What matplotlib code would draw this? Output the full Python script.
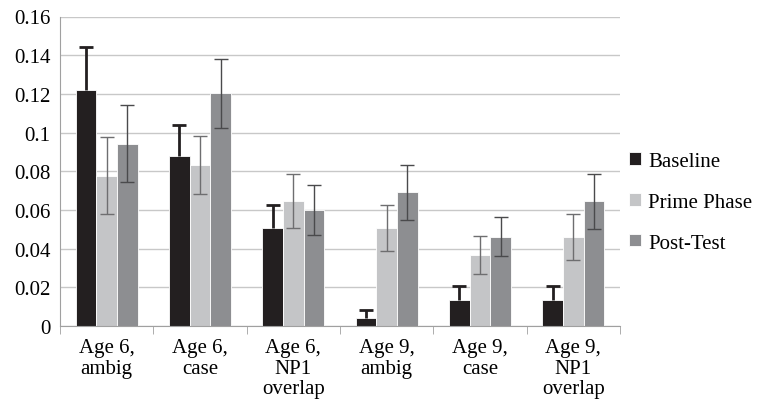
import matplotlib.pyplot as plt
import numpy as np

categories = ['Age 6,\nambig', 'Age 6,\ncase', 'Age 6,\nNP1\noverlap',
              'Age 9,\nambig', 'Age 9,\ncase', 'Age 9,\nNP1\noverlap']
series = ['Baseline', 'Prime Phase', 'Post-Test']
baseline = [0.122, 0.0878, 0.0505, 0.0043, 0.0136, 0.0136]
baseline_err = [0.022, 0.016, 0.0123, 0.0042, 0.0071, 0.0071]
prime = [0.0777, 0.0832, 0.0646, 0.0507, 0.0367, 0.0460]
prime_err = [0.020, 0.015, 0.014, 0.012, 0.010, 0.012]
post = [0.0943, 0.1202, 0.0600, 0.0692, 0.0462, 0.0646]
post_err = [0.020, 0.018, 0.013, 0.0142, 0.010, 0.0142]

colors = ['#231f20', '#c4c5c7', '#8d8e91']
err_colors = ['#231f20', '#6e6e70', '#4a4a4c']

plt.rcParams['font.family'] = ['Liberation Serif', 'DejaVu Serif']
fig = plt.figure(figsize=(7.63, 4.10), dpi=100)
ax = fig.add_axes([60 / 763, 1 - 327 / 410, 560 / 763, 309.5 / 410])

x = np.arange(len(categories))
width = 1 / 4.5
values = [baseline, prime, post]
errs = [baseline_err, prime_err, post_err]
for i in range(3):
    pos = x + (i - 1) * width
    ax.bar(pos, values[i], width, color=colors[i], edgecolor='white',
           linewidth=0.6, label=series[i], zorder=2)
    if i == 0:
        eb = ax.errorbar(pos, values[i], yerr=[np.zeros(len(x)), errs[i]], fmt='none',
                         ecolor=err_colors[i], elinewidth=2, capsize=5, capthick=2, zorder=3)
        eb[1][0].set_visible(False)  # no cap at the bar top
    else:
        ax.errorbar(pos, values[i], yerr=errs[i], fmt='none',
                    ecolor=err_colors[i], elinewidth=1, capsize=5, capthick=1, zorder=3)

ax.set_xlim(-0.5, len(categories) - 0.5)
ax.set_ylim(0, 0.16)
ax.set_yticks(np.arange(0, 0.161, 0.02))
ax.set_yticklabels(['0', '0.02', '0.04', '0.06', '0.08', '0.1', '0.12', '0.14', '0.16'])
ax.yaxis.grid(True, color='#c8c8c8', linewidth=1, zorder=0)
ax.set_axisbelow(True)

ax.set_xticks(x)
ax.set_xticklabels(categories, fontsize=15, linespacing=1.1)
ax.set_xticks(np.arange(-0.5, len(categories)), minor=True)
ax.tick_params(axis='x', which='major', length=0, pad=9)
ax.tick_params(axis='x', which='minor', length=6, color='#a0a0a0')
ax.tick_params(axis='y', length=0, labelsize=15, pad=7)

for side in ['top', 'right']:
    ax.spines[side].set_visible(False)
for side in ['left', 'bottom']:
    ax.spines[side].set_color('#a0a0a0')

leg = ax.legend(loc='center left', bbox_to_anchor=(1.0, 0.40), frameon=False,
                fontsize=15, handlelength=0.55, handleheight=0.55,
                labelspacing=1.05, handletextpad=0.35, borderaxespad=0.15,
                borderpad=0.3)

fig.savefig('out.png', dpi=100)
